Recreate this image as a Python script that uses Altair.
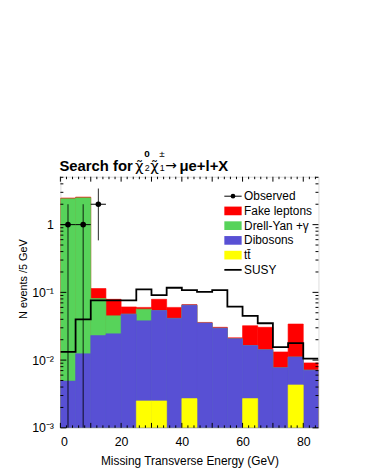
import altair as alt
import numpy as np
import pandas as pd

# ---------------- data ----------------
bin_lo = list(range(0, 85, 5))
ttbar = [0, 0, 0, 0, 0, 0.0025, 0.0025, 0, 0.0027, 0, 0, 0, 0.0027, 0, 0, 0.0043, 0]
dibosons = [0.0049, 0.0124, 0.023, 0.0244, 0.0477, 0.0355, 0.0515, 0.0413, 0.0619,
            0.0352, 0.0296, 0.0206, 0.0137, 0.0142, 0.0077, 0.0068, 0.0071]
drellyan = [2.415, 2.478, 0.058, 0.0206, 0, 0.0185, 0, 0, 0, 0, 0, 0, 0, 0, 0, 0, 0]
fakes = [0.05, 0.06, 0.033, 0.034, 0.0133, 0.0035, 0.025, 0.0187, 0.0014,
         0.0008, 0.0009, 0.0007, 0.0158, 0.0163, 0.0055, 0.023, 0.002]
susy = [0.0132, 0.040, 0.076, 0.076, 0.076, 0.111, 0.091, 0.117, 0.108,
        0.102, 0.108, 0.0618, 0.045, 0.035, 0.0155, 0.0178, 0.0105]
obs_center = [2.5, 7.5, 12.5]
obs_value = [1, 1, 2]

legend_labels = ["Observed", "Fake leptons", "Drell-Yan +\u03b3", "Dibosons", "tt\u0304", "SUSY"]
x_major = [0, 10, 20, 30, 40, 50, 60, 70, 80]
y_major = [0.001, 0.01, 0.1, 1]

COL_RED = "#ff0000"
COL_GREEN = "#57d35a"
COL_BLUE = "#5850d4"
COL_YELLOW = "#ffff00"

W, H = 261, 254
YMIN, YMAX = 0.001, 5.1
FONT = "Liberation Sans"

xs = alt.Scale(domain=[0, 85], nice=False, zero=False)
ys = alt.Scale(type="log", domain=[YMIN, YMAX], nice=False)

lo = np.array(bin_lo, dtype=float)
hi = lo + 5
c_yellow = np.array(ttbar)
c_blue = c_yellow + np.array(dibosons)
c_green = c_blue + np.array(drellyan)
c_red = c_green + np.array(fakes)


def stack_layer(top, color):
    df = pd.DataFrame({"lo": lo, "hi": hi, "top": top})
    df = df[df["top"] > YMIN]
    return alt.Chart(df).mark_rect(color=color, stroke=color, strokeWidth=0.6, clip=True).encode(
        x=alt.X("lo:Q", scale=xs,
                axis=alt.Axis(values=x_major, title="Missing Transverse Energy (GeV)",
                              grid=False, ticks=False, domain=False, labelPadding=8,
                              labelFontSize=12.5, labelFont=FONT, labelColor="black",
                              titleFont=FONT, titleFontSize=12, titleFontWeight="normal",
                              titleColor="black", titleY=33, titleBaseline="middle")),
        x2="hi:Q",
        y=alt.Y("top:Q", scale=ys,
                axis=alt.Axis(values=y_major, title="N events /5 GeV",
                              labelExpr="datum.value >= 1 ? '1' : datum.value >= 0.1 ? '10\u207b\u00b9' : datum.value >= 0.01 ? '10\u207b\u00b2' : '10\u207b\u00b3'",
                              grid=False, ticks=False, domain=False, labelPadding=7,
                              labelFontSize=12.5, labelFont=FONT, labelColor="black",
                              titleFont=FONT, titleFontSize=11, titleFontWeight="normal",
                              titleColor="black", titleX=-37, titleY=103,
                              titleAngle=-90, titleAlign="center", titleBaseline="middle")),
        y2=alt.value(H),
    )


layers = [
    stack_layer(c_red, COL_RED),
    stack_layer(c_green, COL_GREEN),
    stack_layer(c_blue, COL_BLUE),
    stack_layer(c_yellow, COL_YELLOW),
]

# SUSY step line
susy_df = pd.DataFrame({"x": list(lo) + [85.0], "y": susy + [susy[-1]]})
layers.append(alt.Chart(susy_df).mark_line(interpolate="step-after", color="black",
                                            strokeWidth=1.8, clip=True).encode(
    x=alt.X("x:Q", scale=xs), y=alt.Y("y:Q", scale=ys)))

# observed with errors
ov = np.array(obs_value, dtype=float)
oe = np.sqrt(ov)
obs_df = pd.DataFrame({
    "c": obs_center, "v": ov,
    "lo_y": np.maximum(ov - oe, YMIN), "hi_y": ov + oe,
    "lo_x": np.array(obs_center) - 2.5, "hi_x": np.array(obs_center) + 2.5,
})
layers.append(alt.Chart(obs_df).mark_rule(color="black", strokeWidth=1, opacity=0.85, clip=True).encode(
    x=alt.X("c:Q", scale=xs), y=alt.Y("lo_y:Q", scale=ys), y2="hi_y:Q"))
layers.append(alt.Chart(obs_df).mark_rule(color="black", strokeWidth=1, clip=True).encode(
    x=alt.X("lo_x:Q", scale=xs), x2="hi_x:Q", y=alt.Y("v:Q", scale=ys)))
layers.append(alt.Chart(obs_df).mark_circle(color="black", size=32, opacity=1).encode(
    x=alt.X("c:Q", scale=xs), y=alt.Y("v:Q", scale=ys)))

# ---------------- inward ticks on all four sides ----------------
x_minor = [v for v in range(2, 85, 2) if v % 10 != 0]
y_minor = [m * 10.0 ** e for e in range(-3, 1) for m in range(2, 10) if m * 10.0 ** e <= YMAX]

def xticks(vals, length):
    df = pd.DataFrame({"v": vals})
    b = alt.Chart(df).mark_rule(color="black", strokeWidth=1).encode(
        x=alt.X("v:Q", scale=xs), y=alt.value(H), y2=alt.value(H - length))
    t = alt.Chart(df).mark_rule(color="black", strokeWidth=1).encode(
        x=alt.X("v:Q", scale=xs), y=alt.value(0), y2=alt.value(length))
    return [b, t]

def yticks(vals, length):
    df = pd.DataFrame({"v": vals})
    l = alt.Chart(df).mark_rule(color="black", strokeWidth=1).encode(
        y=alt.Y("v:Q", scale=ys), x=alt.value(0), x2=alt.value(length))
    r = alt.Chart(df).mark_rule(color="black", strokeWidth=1).encode(
        y=alt.Y("v:Q", scale=ys), x=alt.value(W), x2=alt.value(W - length))
    return [l, r]

layers += xticks(x_major, 5) + xticks(x_minor, 2.5)
layers += yticks(y_major, 6) + yticks(y_minor, 3)

# ---------------- legend (placed in data coordinates) ----------------
row_log = [0.42 - 0.2175 * i for i in range(6)]
leg_df = pd.DataFrame({"label": legend_labels, "y": [10 ** r for r in row_log]})
leg_df["x"] = 60.5
layers.append(alt.Chart(leg_df).mark_text(align="left", baseline="middle", font=FONT,
                                           fontSize=12, color="black").encode(
    x=alt.X("x:Q", scale=xs), y=alt.Y("y:Q", scale=ys), text="label:N"))

sw = pd.DataFrame({
    "x1": [54.0] * 4, "x2": [59.7] * 4,
    "y1": [10 ** (r - 0.064) for r in row_log[1:5]],
    "y2": [10 ** (r + 0.064) for r in row_log[1:5]],
    "c": [COL_RED, COL_GREEN, COL_BLUE, COL_YELLOW],
})
layers.append(alt.Chart(sw).mark_rect().encode(
    x=alt.X("x1:Q", scale=xs), x2="x2:Q", y=alt.Y("y1:Q", scale=ys), y2="y2:Q",
    color=alt.Color("c:N", scale=None)))
ln = pd.DataFrame({"x1": [54.0, 54.0], "x2": [59.7, 59.7],
                   "y": [10 ** row_log[0], 10 ** row_log[5]], "w": [1.0, 1.8]})
ln["xm"] = 56.85
layers.append(alt.Chart(ln).mark_rule(color="black").encode(
    x=alt.X("x1:Q", scale=xs), x2="x2:Q", y=alt.Y("y:Q", scale=ys),
    strokeWidth=alt.StrokeWidth("w:Q", scale=None)))
layers.append(alt.Chart(ln.iloc[:1]).mark_circle(color="black", size=22, opacity=1).encode(
    x=alt.X("xm:Q", scale=xs), y=alt.Y("y:Q", scale=ys)))

# ---------------- title (pieces, in pixels above the frame) ----------------
def txt(s, x, y, size, bold=False, baseline="alphabetic", align="left", font=FONT):
    return alt.Chart(pd.DataFrame({"t": [s]})).mark_text(
        font=font, fontSize=size, fontWeight="bold" if bold else "normal",
        align=align, baseline=baseline, color="black").encode(
        x=alt.value(x), y=alt.value(y), text="t:N")

layers += [
    txt("Search for", -1, -6, 15, bold=True),
    txt("\u03c7\u0303", 75.5, -6, 15, font="DejaVu Sans"),
    txt("0", 87.5, -23, 10, bold=True, baseline="middle", align="center"),
    txt("2", 87.8, -9, 9, baseline="middle", align="center"),
    txt("\u03c7\u0303", 90.8, -6, 15, font="DejaVu Sans"),
    txt("\u00b1", 102.8, -23, 10, baseline="middle", align="center"),
    txt("1", 103, -9, 9, baseline="middle", align="center"),
    txt("\u2192", 106, -7, 14, font="DejaVu Sans"),
    txt("\u03bce+l+X", 120.5, -6, 15, bold=True),
]

chart = alt.layer(*layers).properties(
    width=W, height=H,
    autosize=alt.AutoSizeParams(type="none"),
    padding={"left": 53, "top": 168, "right": 40, "bottom": 40},
).configure_view(stroke="black", strokeWidth=1.3).configure(background="white")

chart.save("out.html", embed_options={"renderer": "svg", "actions": False})
